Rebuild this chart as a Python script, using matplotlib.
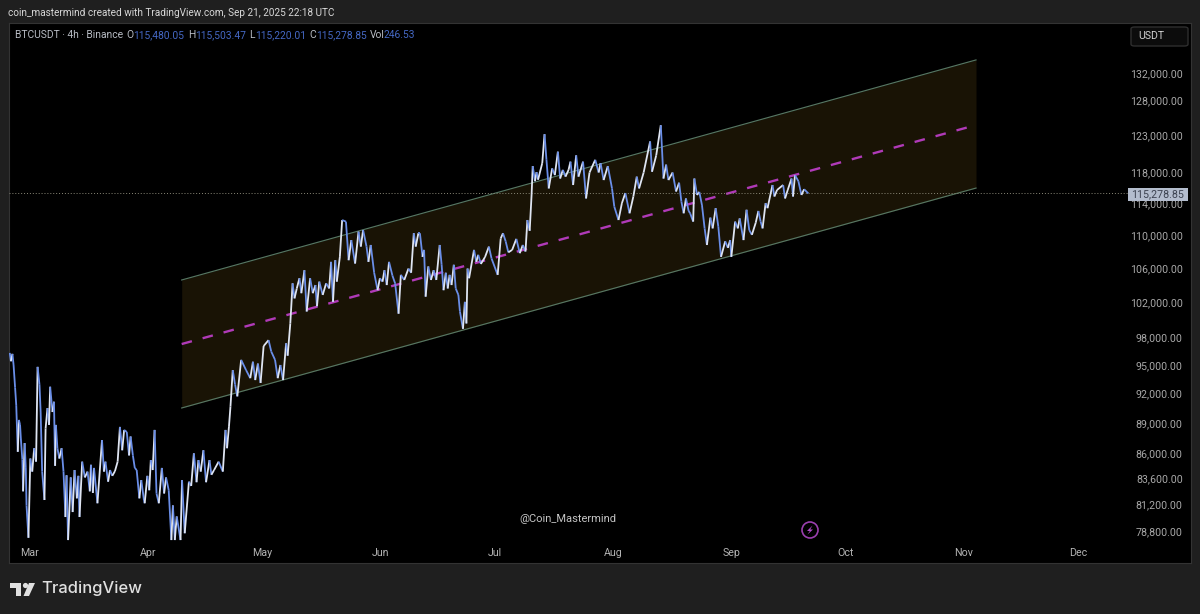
#!/usr/bin/env python3
"""BTCUSDT 4h chart with a rising channel, TradingView dark style."""

import matplotlib
matplotlib.use("Agg")
import matplotlib.pyplot as plt
import numpy as np
from matplotlib.collections import LineCollection
from matplotlib.patches import Circle, FancyBboxPatch, Polygon, Rectangle

# swing points of the price, days counted from Mar 1
swing_days = [
    -5.3, -5.0, -4.6, -4.3, -3.9, -3.6, -3.2, -2.9, -2.6, -2.4, -2.0, -1.8, -1.4, -1.1, -0.9, -0.4,
    0.1, 0.6, 1.1, 1.6, 2.0, 2.5, 2.8, 3.2, 3.8, 4.1, 4.6, 5.0, 5.3, 5.9, 6.3, 6.6, 6.8, 7.2, 7.7,
    8.3, 8.8, 9.3, 9.6, 10.0, 10.7, 11.2, 11.7, 12.3, 12.7, 13.0, 13.7, 14.4, 15.1, 15.7, 16.0,
    16.5, 16.8, 17.7, 18.9, 19.4, 19.8, 20.5, 21.0, 21.6, 22.3, 23.0, 23.6, 24.2, 24.7, 25.4, 26.0,
    26.4, 27.0, 27.5, 28.0, 28.7, 29.2, 29.9,
    30.1, 30.8, 31.3, 31.7, 32.2, 32.7, 33.2, 33.8, 34.6, 35.2, 35.7, 36.4, 37.1, 37.5, 38.0, 38.5,
    39.5, 39.9, 40.6, 41.7, 42.3, 43.0, 43.7, 44.2, 44.8, 45.5, 46.2, 47.1, 47.6, 48.3, 49.5, 50.6,
    51.3, 51.7, 52.2, 52.6, 53.2, 53.8, 54.4, 55.4, 56.7, 57.8, 58.5, 59.1, 59.8, 60.5, 61.3, 62.6,
    63.3, 64.3, 65.0, 65.7, 66.4, 67.2, 67.6, 68.3, 68.9,
    69.4, 70.0, 70.7, 71.2, 72.0, 72.6, 73.5, 74.2, 74.9, 75.3, 75.9, 76.8, 77.7, 78.5, 79.0, 79.5,
    80.1, 80.5, 81.3, 81.9, 82.9, 83.6, 84.3, 85.3, 86.2, 86.8, 87.4, 88.3, 88.8, 89.4, 90.3, 91.2,
    91.8, 92.5, 93.0, 93.6, 94.2, 95.1, 95.8, 96.7, 97.3, 98.2, 99.3, 100.0, 100.7, 101.2, 101.9,
    102.3, 103.0, 103.4, 103.8, 104.5, 105.2, 105.9, 106.6, 107.5, 108.0, 108.5, 109.1, 109.6,
    110.1, 110.6, 111.2, 111.7, 112.4, 112.8, 113.6, 114.1, 114.5, 114.8, 115.2, 116.5, 117.1,
    117.6, 118.3, 119.4, 120.4, 121.1, 122.7, 123.5, 124.1, 124.8, 125.5, 126.5, 127.6, 128.5,
    129.3, 130.0, 130.5, 131.1, 131.6, 131.9, 132.5, 132.9, 133.3, 134.4, 135.0, 135.5, 136.1, 137.0,
    137.7, 138.5, 139.1, 139.8, 140.5, 141.3, 141.8, 142.5, 143.3, 143.9, 145.1, 145.9, 146.8,
    148.3, 149.2, 149.7, 150.5, 151.6, 152.7, 153.3, 154.4, 155.3, 156.2, 157.3, 158.3, 159.2,
    159.8, 161.0, 162.7, 163.2, 164.3, 165.5, 166.2, 166.9, 167.5, 168.6, 169.5,
    170.3, 170.9, 171.5, 172.1, 172.8, 173.2, 174.0, 174.3, 175.0, 175.6, 176.3, 177.0, 177.6,
    178.5, 179.1, 179.9, 180.6, 181.3, 182.4, 183.1, 183.7, 184.0, 185.0, 185.7, 186.2, 187.2,
    188.0, 188.7, 189.4, 190.4, 191.1, 191.7, 192.2, 193.0, 193.5, 194.8, 195.3, 196.0, 197.6,
    198.1, 198.8, 199.8, 200.2, 200.7, 201.6, 202.4, 203.1, 204.2,
]
swing_prices = [
    96300, 95400, 96200, 95000, 92600, 90800, 86150, 89300, 88800, 87500, 85400, 82400, 87000, 84600, 81100, 78200,
    85500, 84250, 86500, 85200, 94800, 92900, 90100, 84250, 81600, 88450, 90500, 88800, 92700, 90100, 91150, 84800, 88800, 86500, 85500,
    86500, 84250, 80050, 83900, 78000, 83700, 80500, 84400, 81750, 83850, 80050, 85200, 83700, 84250, 82400, 84900,
    82250, 84600, 81300, 87300, 84250, 85200, 83300, 84400, 83850, 84300, 85200, 88600, 86300, 88300, 88100, 85800,
    87650, 85800, 84600, 84400, 81750, 83450, 81600,
    81300, 83850, 82500, 85350, 84400, 88300, 82200, 81300, 84600, 82200, 83700, 82500, 78000, 81100, 78000, 80100,
    78000, 83450, 78600, 83300, 82900, 86000, 83250, 85350, 84250, 86300, 83250, 85350, 83950, 84400, 85200, 84250,
    88300, 86500, 88600, 90650, 94450, 92950, 91700, 95550, 94450, 93600, 95350, 93400, 95150, 93100, 97050, 97700,
    96450, 95550, 93600, 95000, 93400, 97350, 96000, 99550, 104150,
    102400, 103550, 104750, 103000, 105700, 100900, 104750, 103000, 103950, 101500, 104350, 102800, 104150, 103550, 106700, 102000,
    106900, 104350, 107300, 111850, 111650, 106900, 109350, 106500, 110400, 108550, 110600, 108550, 106700, 108750, 105400, 103350,
    104750, 104350, 105700, 103950, 106700, 105050, 104150, 100650, 105150, 104550, 105900, 105400, 110200, 108550, 110200,
    110200, 107300, 108150, 102600, 106150, 104550, 105700, 104550, 108750, 106350, 103350, 105400, 103550,
    105150, 103950, 106350, 103550, 102800, 100900, 98950, 102000, 99550, 105900, 104750, 108150, 106700,
    107550, 106450, 107300, 108550, 107100, 105150, 109550, 110200, 109200, 107850, 108150, 109500, 107750,
    108750, 107950, 111850, 110500, 115050, 118850, 116850, 118050, 117050, 119250, 123200, 119700, 115900, 118550,
    117650, 120800, 117200, 118350, 117450, 118350, 119450, 116350, 120300, 117450, 119450, 114600, 118000,
    119700, 118000, 119250, 117000, 118850, 115900, 113550, 111850, 114000, 115300, 112700, 114850, 117450,
    115900, 118000, 122200, 118100, 120300, 124450, 117200, 119050, 117000, 118000, 115500,
    116650, 114200, 112700, 114600, 113000, 112700, 111650, 117200, 115050, 115450, 113750, 110800, 108750,
    112150, 110800, 113350, 111000, 107300, 109200, 108400, 109350, 107300, 111650, 110800, 112050, 109350,
    113150, 110600, 110000, 111500, 113000, 111650, 110800, 114000, 113350, 116350, 114850, 115700, 116350,
    114600, 115700, 117200, 114850, 117650, 116850, 115050, 115800, 115250,
]

# channel, start and end of each trend line
channel_days = [39.8, 248.2]
channel_upper = [104545, 133950]
channel_mid = [97270, 124480]
channel_lower = [90510, 115950]

last_price = 115278.85
price_ticks = [78800, 81200, 83600, 86000, 89000, 92000, 95000, 98000, 102000, 106000,
               110000, 114000, 118000, 123000, 128000, 132000]
month_days = [0, 31, 61, 92, 122, 153, 184, 214, 245, 275]
month_labels = ["Mar", "Apr", "May", "Jun", "Jul", "Aug", "Sep", "Oct", "Nov", "Dec"]
legend_parts = [("BTCUSDT · 4h · Binance", 15, "#b8bcc4"), ("O", 126, "#b8bcc4"), ("115,480.05", 133, "#4568c4"),
                ("H", 188, "#b8bcc4"), ("115,503.47", 195, "#4568c4"), ("L", 249, "#b8bcc4"),
                ("115,220.01", 255, "#4568c4"), ("C", 309, "#b8bcc4"), ("115,278.85", 316, "#4568c4"),
                ("Vol", 370, "#b8bcc4"), ("246.53", 384, "#4568c4")]

W, H = 1200, 614
plt.rcParams["font.family"] = ["Roboto", "DejaVu Sans"]


def fx(px):
    return px / W


def fy(py):
    return 1 - py / H


fig = plt.figure(figsize=(W / 100, H / 100), dpi=100, facecolor="#1f1f1f")
ax = fig.add_axes([fx(9), fy(563), fx(1191 - 9), (563 - 23) / H], facecolor="#000000")
ax.set_yscale("log")
ax.set_xlim(-5.5, 304.6)
ax.set_ylim(76010, 139640)

# channel band
ax.fill_between(channel_days, channel_lower, channel_upper, color="#191305", lw=0, zorder=1)
ax.plot(channel_days, channel_upper, color="#567662", lw=0.85, zorder=2)
ax.plot(channel_days, channel_lower, color="#567662", lw=0.85, zorder=2)
ax.plot(channel_days, channel_mid, color="#b03ab8", lw=1.7, dashes=(4.5, 4.7), zorder=2)

# last price line
ax.axhline(last_price, xmax=(1128 - 9) / (1191 - 9), color="#8a8878", lw=0.7, ls=(0, (1, 2)), zorder=3)

# price path, white going up and blue going down
days = np.array(swing_days)
prices = np.array(swing_prices)
segs = np.stack([np.column_stack([days[:-1], prices[:-1]]), np.column_stack([days[1:], prices[1:]])], axis=1)
cols = ["#dfe5f2" if b > a else "#6a8ee8" for a, b in zip(prices[:-1], prices[1:])]
ax.add_collection(LineCollection(segs, colors=cols, linewidths=1.3, zorder=4))

ax.yaxis.tick_right()
ax.set_yticks(price_ticks)
ax.set_yticklabels([f"{p:,.2f}" for p in price_ticks], ha="right")
ax.yaxis.set_minor_locator(plt.NullLocator())
ax.tick_params(axis="y", length=0, pad=-6, labelsize=7.7, labelcolor="#a8a8a8")
ax.set_xticks(month_days)
ax.set_xticklabels(month_labels)
ax.tick_params(axis="x", length=0, pad=-11, labelsize=7.7, labelcolor="#b4b4b4")
for s in ax.spines.values():
    s.set_color("#333333")
    s.set_linewidth(0.8)

# header and OHLC legend
fig.text(fx(8), fy(13), "coin_mastermind created with TradingView.com, Sep 21, 2025 22:18 UTC",
         color="#d8d8d8", fontsize=7.2, va="center")
for txt, px, col in legend_parts:
    fig.text(fx(px), fy(35), txt, color=col, fontsize=7.4, va="center")

# currency button
fig.add_artist(FancyBboxPatch((fx(1131), fy(46)), fx(57), 19 / H, boxstyle="round,pad=0,rounding_size=0.003",
                              transform=fig.transFigure, facecolor="#0c0c0c", edgecolor="#2e2e2e", lw=1))
fig.text(fx(1138), fy(36), "USDT", color="#d0d0d0", fontsize=7.6, va="center")

# last price tag
fig.add_artist(Rectangle((fx(1128), fy(201)), fx(60), 13 / H, transform=fig.transFigure, facecolor="#b3bccd"))
fig.text(fx(1184), fy(194.5), "115,278.85", color="#3c4250", fontsize=7.7, va="center", ha="right")

# watermark and lightning badge
fig.text(fx(568), fy(519), "@Coin_Mastermind", color="#c4c4c4", fontsize=8, va="center", ha="center")
fig.add_artist(Circle((810, H - 530), 8, transform=None, facecolor="none", edgecolor="#9a3fae", lw=1.2))
fig.add_artist(Polygon([(fx(812.5), fy(525.5)), (fx(807), fy(531)), (fx(809.8), fy(531)), (fx(807.5), fy(534.5)),
                        (fx(813), fy(529.5)), (fx(810.2), fy(529.5))],
                       transform=fig.transFigure, color="#b04cc8", lw=0))

# TradingView logo
logo = "#e0e0e0"
fig.add_artist(Polygon([(fx(10), fy(583)), (fx(21), fy(583)), (fx(21), fy(596)), (fx(16), fy(596)),
                        (fx(16), fy(588)), (fx(10), fy(588))], transform=fig.transFigure, color=logo, lw=0))
fig.add_artist(Circle((25.5, H - 585.5), 2.6, transform=None, color=logo, lw=0))
fig.add_artist(Polygon([(fx(29), fy(583)), (fx(35), fy(583)), (fx(29), fy(596)), (fx(23.5), fy(596))],
                       transform=fig.transFigure, color=logo, lw=0))
fig.text(fx(41), fy(589), "TradingView", color=logo, fontsize=11.9, va="center", family="Inter", weight="medium")

fig.savefig("out.png", dpi=100, facecolor=fig.get_facecolor())
